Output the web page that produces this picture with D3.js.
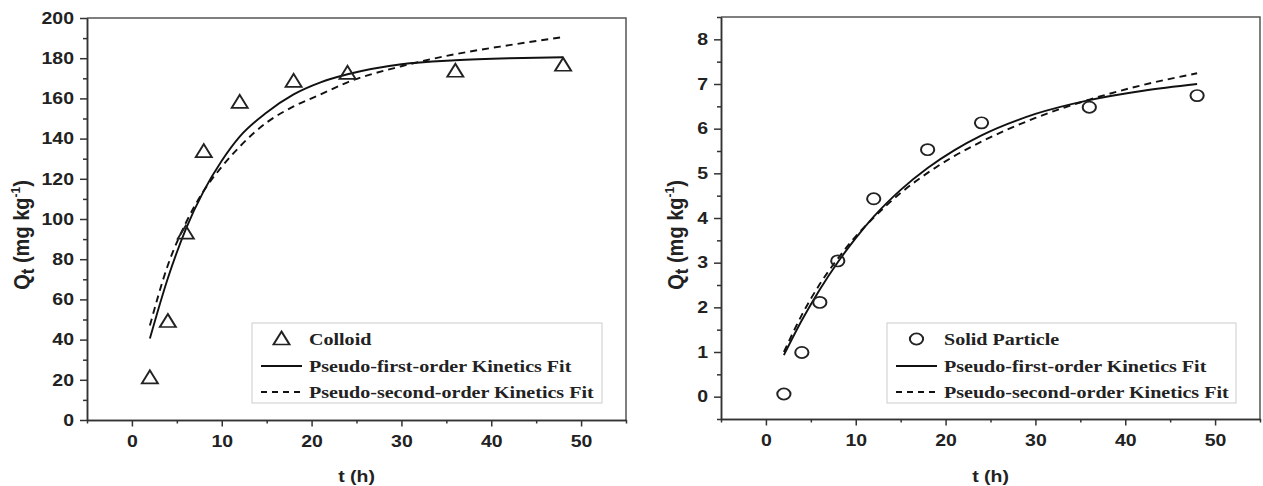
<!DOCTYPE html>
<html>
<head>
<meta charset="utf-8">
<script src="https://cdn.jsdelivr.net/npm/d3@7"></script>
<style>
body { margin: 0; background: #fff; }
</style>
</head>
<body>
<div class="container"></div>
<script>
/*
Adsorption kinetics, two panels side by side.
    left  = colloid, right = solid particle
    points = measured Qt, solid = pseudo-first-order fit, dashed = pseudo-second-order fit
*/

const width = 1263;
const height = 486;

// the reference is a little wider than tall, text and markers are stretched to match
const stretch = 1.18;

const colloidT = [2, 4, 6, 8, 12, 18, 24, 36, 48];
const colloidQ = [21, 49, 93, 133.5, 158, 168.5, 172.5, 173.5, 176.5];

const particleT = [2, 4, 6, 8, 12, 18, 24, 36, 48];
const particleQ = [0.06, 0.99, 2.11, 3.04, 4.43, 5.53, 6.13, 6.48, 6.74];

// fitted curves at these times
const fitT = [2, 4, 6, 8, 10, 12, 15, 18, 21, 24, 30, 36, 42, 48];
const colloidFirst = [40.5, 70.5, 95, 114, 129, 141, 153, 162, 168, 172, 177, 179, 180, 180.5];
const colloidSecond = [47, 77, 98, 114, 126, 136, 148, 156, 162, 168, 176, 182, 186.5, 190.5];
const particleFirst = [0.93, 1.71, 2.4, 3.01, 3.55, 4.03, 4.63, 5.12, 5.52, 5.85, 6.33, 6.64, 6.85, 7.0];
const particleSecond = [1.0, 1.83, 2.52, 3.09, 3.59, 4.01, 4.56, 5.01, 5.39, 5.71, 6.24, 6.65, 6.98, 7.24];

// tick labels
const xTicks = [0, 10, 20, 30, 40, 50];
const xMinor = [-5, 5, 15, 25, 35, 45, 55];
const colloidYTicks = [0, 20, 40, 60, 80, 100, 120, 140, 160, 180, 200];
const colloidYMinor = [10, 30, 50, 70, 90, 110, 130, 150, 170, 190];
const particleYTicks = [0, 1, 2, 3, 4, 5, 6, 7, 8];
const particleYMinor = [-0.5, 0.5, 1.5, 2.5, 3.5, 4.5, 5.5, 6.5, 7.5, 8.5];

const legendFirst = 'Pseudo-first-order Kinetics Fit';
const legendSecond = 'Pseudo-second-order Kinetics Fit';

const axisColor = '#333';
const sans = 'Liberation Sans, Arial, sans-serif';
const serif = 'Liberation Serif, Times New Roman, serif';

const panels = [
    {
        box: {left: 87, right: 626, top: 18, bottom: 420},
        yDomain: [0, 200],
        yTicks: colloidYTicks,
        yMinor: colloidYMinor,
        t: colloidT, q: colloidQ,
        first: colloidFirst, second: colloidSecond,
        marker: 'triangle',
        name: 'Colloid',
        legend: {x: 252, y: 323, w: 350, h: 80},
        yTitleX: 29,
    },
    {
        box: {left: 721, right: 1260, top: 17, bottom: 419},
        yDomain: [-0.5, 8.5],
        yTicks: particleYTicks,
        yMinor: particleYMinor,
        t: particleT, q: particleQ,
        first: particleFirst, second: particleSecond,
        marker: 'circle',
        name: 'Solid Particle',
        legend: {x: 887, y: 323, w: 349, h: 80},
        yTitleX: 683,
    },
];

// stretch a text element horizontally around its own anchor
function widen(sel) {
    sel.each(function () {
        const t = d3.select(this);
        const x = +t.attr('x') || 0;
        t.attr('x', x / stretch).attr('transform', `scale(${stretch},1)`);
    });
}

function drawMarker(g, type, cx, cy) {
    const m = g.append('g').attr('transform', `translate(${cx},${cy}) scale(${stretch},1)`);
    if (type === 'triangle') {
        m.append('path')
            .attr('d', 'M0,-7.5L6.8,5.5L-6.8,5.5Z')
            .attr('fill', 'none')
            .attr('stroke', '#222')
            .attr('stroke-width', 1.7)
            .attr('stroke-linejoin', 'miter');
    } else {
        m.append('circle')
            .attr('r', 5.6)
            .attr('fill', 'none')
            .attr('stroke', '#222')
            .attr('stroke-width', 1.7);
    }
}

function drawPanel(svg, p) {
    const {left, right, top, bottom} = p.box;
    const x = d3.scaleLinear().domain([-5, 55]).range([left, right]);
    const y = d3.scaleLinear().domain(p.yDomain).range([bottom, top]);
    const g = svg.append('g');

    // frame on top and right
    g.append('path')
        .attr('d', `M${left},${top}H${right}V${bottom}`)
        .attr('fill', 'none')
        .attr('stroke', '#555')
        .attr('stroke-width', 1.5);

    // minor ticks first so major axes sit on top
    g.append('g')
        .attr('transform', `translate(0,${bottom})`)
        .call(d3.axisBottom(x).tickValues(xMinor).tickSize(3.5).tickSizeOuter(0).tickFormat(''));
    g.append('g')
        .attr('transform', `translate(${left},0)`)
        .call(d3.axisLeft(y).tickValues(p.yMinor).tickSize(4).tickSizeOuter(0).tickFormat(''));

    const xAxis = g.append('g')
        .attr('transform', `translate(0,${bottom})`)
        .call(d3.axisBottom(x).tickValues(xTicks).tickSize(6.5).tickSizeOuter(0).tickPadding(9));
    const yAxis = g.append('g')
        .attr('transform', `translate(${left},0)`)
        .call(d3.axisLeft(y).tickValues(p.yTicks).tickSize(7).tickSizeOuter(0).tickPadding(6));

    g.selectAll('.domain, .tick line')
        .attr('stroke', axisColor)
        .attr('stroke-width', 1.5);

    [xAxis, yAxis].forEach(a => {
        a.selectAll('text')
            .attr('fill', '#222')
            .style('font-family', sans)
            .style('font-weight', 'bold')
            .style('font-size', '16.5px')
            .call(widen);
    });

    // fitted curves
    const line = d3.line()
        .x(d => x(d[0]))
        .y(d => y(d[1]))
        .curve(d3.curveMonotoneX);

    g.append('path')
        .datum(fitT.map((t, i) => [t, p.second[i]]))
        .attr('d', line)
        .attr('fill', 'none')
        .attr('stroke', '#111')
        .attr('stroke-width', 1.9)
        .attr('stroke-dasharray', '7,5');

    g.append('path')
        .datum(fitT.map((t, i) => [t, p.first[i]]))
        .attr('d', line)
        .attr('fill', 'none')
        .attr('stroke', '#111')
        .attr('stroke-width', 1.9);

    // measured points
    p.t.forEach((t, i) => drawMarker(g, p.marker, x(t), y(p.q[i])));

    // x title
    g.append('text')
        .attr('transform', `translate(${(left + right) / 2},482) scale(${stretch},1)`)
        .attr('text-anchor', 'middle')
        .attr('fill', '#222')
        .style('font-family', sans)
        .style('font-weight', 'bold')
        .style('font-size', '16.5px')
        .text('t (h)');

    // y title, Q_t (mg kg^-1)
    const yt = g.append('text')
        .attr('transform', `translate(${p.yTitleX},235) scale(1.08,1) rotate(-90)`)
        .attr('text-anchor', 'middle')
        .attr('fill', '#222')
        .style('font-family', sans)
        .style('font-weight', 'bold')
        .style('font-size', '20px');
    yt.append('tspan').text('Q');
    yt.append('tspan').attr('dy', 5).style('font-size', '17px').text('t');
    yt.append('tspan').attr('dy', -5).text(' (mg kg');
    yt.append('tspan').attr('dy', -8).style('font-size', '12px').text('-1');
    yt.append('tspan').attr('dy', 8).text(')');

    // legend
    const L = p.legend;
    const lg = g.append('g');
    lg.append('rect')
        .attr('x', L.x).attr('y', L.y)
        .attr('width', L.w).attr('height', L.h)
        .attr('fill', '#fff')
        .attr('stroke', '#ccc')
        .attr('stroke-width', 1);

    const rows = [L.y + 16, L.y + 43, L.y + 69];
    const sx0 = L.x + 9, sx1 = L.x + 50;
    drawMarker(lg, p.marker, (sx0 + sx1) / 2, rows[0]);
    lg.append('line')
        .attr('x1', sx0).attr('x2', sx1)
        .attr('y1', rows[1]).attr('y2', rows[1])
        .attr('stroke', '#111').attr('stroke-width', 1.9);
    lg.append('line')
        .attr('x1', sx0).attr('x2', sx1)
        .attr('y1', rows[2]).attr('y2', rows[2])
        .attr('stroke', '#111').attr('stroke-width', 1.9)
        .attr('stroke-dasharray', '6,5');

    [p.name, legendFirst, legendSecond].forEach((label, i) => {
        lg.append('text')
            .attr('x', L.x + 57)
            .attr('y', rows[i] + 6)
            .attr('fill', '#222')
            .style('font-family', serif)
            .style('font-weight', 'bold')
            .style('font-size', '17px')
            .text(label)
            .call(widen);
    });
}

function draw() {
    const svg = d3.select('.container')
        .append('svg')
        .attr('width', width)
        .attr('height', height)
        .style('display', 'block');

    panels.forEach(p => drawPanel(svg, p));
}

draw();
</script>
</body>
</html>
